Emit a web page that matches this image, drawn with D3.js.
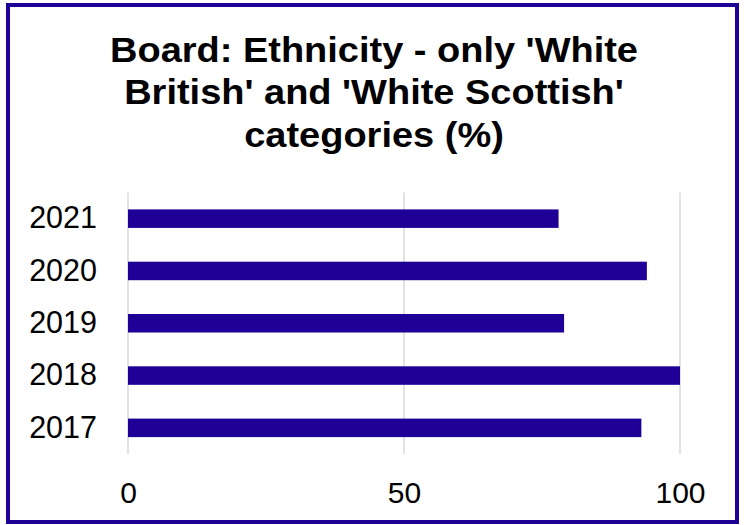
<!DOCTYPE html>
<html>
<head>
<meta charset="utf-8">
<script src="https://cdn.jsdelivr.net/npm/d3@7"></script>
<style>
  html, body { margin: 0; padding: 0; background: #fff; }
  svg { display: block; font-family: "Liberation Sans", Arial, sans-serif; }
</style>
</head>
<body>
<svg id="chart" width="744" height="525"></svg>
<script>
// Share of board members in 'White British' / 'White Scottish' categories, by year
const years = ["2021", "2020", "2019", "2018", "2017"];
const percentages = [78, 94, 79, 100, 93];
const xTicks = [0, 50, 100];
const titleLines = ["Board: Ethnicity - only 'White", "British' and 'White Scottish'", "categories (%)"];

const data = years.map((y, i) => ({ year: y, value: percentages[i] }));

const svg = d3.select("#chart");
const ink = "#1f0096";

// frame
svg.append("rect")
  .attr("x", 8).attr("y", 5)
  .attr("width", 729).attr("height", 517)
  .attr("fill", "#fff")
  .attr("stroke", ink)
  .attr("stroke-width", 4);

// title
svg.append("g")
  .attr("transform", "translate(374,0) scale(1.07,1)")
  .selectAll("text")
  .data(titleLines)
  .join("text")
  .attr("x", 0)
  .attr("y", (d, i) => 62 + i * 42.5)
  .attr("text-anchor", "middle")
  .attr("font-size", 35.5)
  .attr("font-weight", "bold")
  .attr("fill", "#000")
  .text(d => d);

const plot = { left: 128, right: 680, top: 192.5, bottom: 454 };

const x = d3.scaleLinear().domain([0, 100]).range([plot.left, plot.right]);
const y = d3.scaleBand().domain(years).range([plot.top, plot.bottom]).paddingInner(0.646).paddingOuter(0.323);

// vertical gridlines
svg.append("g").selectAll("line")
  .data(xTicks)
  .join("line")
  .attr("x1", d => x(d)).attr("x2", d => x(d))
  .attr("y1", plot.top).attr("y2", plot.bottom)
  .attr("stroke", "#d9d9d9")
  .attr("stroke-width", 1.5);

// bars
svg.append("g").selectAll("rect")
  .data(data)
  .join("rect")
  .attr("x", x(0))
  .attr("y", d => y(d.year))
  .attr("width", d => x(d.value) - x(0))
  .attr("height", y.bandwidth())
  .attr("fill", ink);

// x axis labels
const xAxis = d3.axisBottom(x).tickValues(xTicks).tickSize(0).tickPadding(0).tickFormat(d3.format("d"));
const gx = svg.append("g").attr("transform", "translate(0, 503)").call(xAxis);
gx.select(".domain").remove();
gx.selectAll("text").attr("font-size", 30).attr("fill", "#000")
  .attr("dy", 0).attr("font-family", "Liberation Sans, Arial, sans-serif");

// y axis labels
const yAxis = d3.axisLeft(y).tickSize(0).tickPadding(0);
const gy = svg.append("g").attr("transform", "translate(97, 0)").call(yAxis);
gy.select(".domain").remove();
gy.selectAll("text").attr("font-size", 30.5).attr("fill", "#000")
  .attr("font-family", "Liberation Sans, Arial, sans-serif");
</script>
</body>
</html>
